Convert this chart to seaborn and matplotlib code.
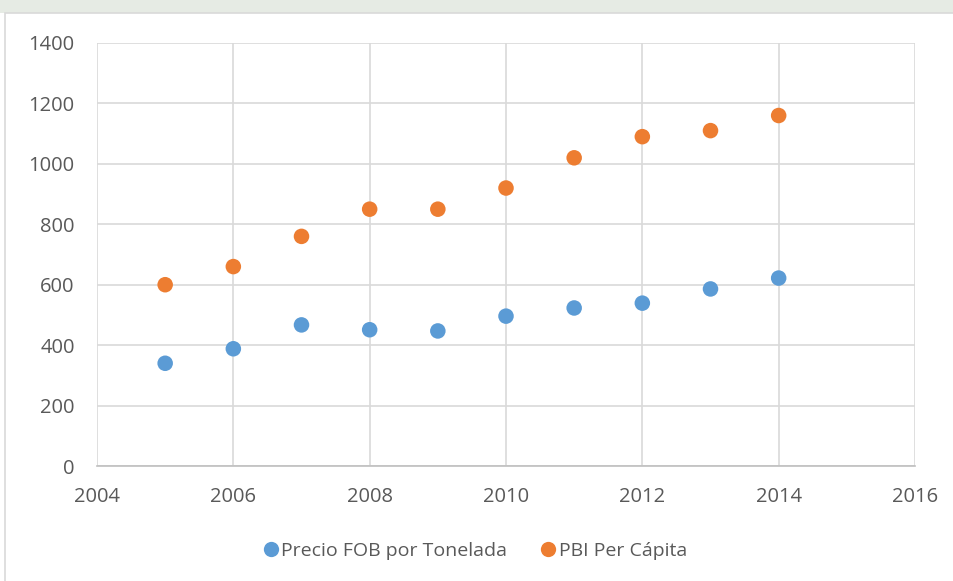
import matplotlib
matplotlib.use("Agg")
import matplotlib.pyplot as plt
import seaborn as sns
import pandas as pd
from matplotlib.patches import Rectangle

years = [2005, 2006, 2007, 2008, 2009, 2010, 2011, 2012, 2013, 2014]
precio_fob = [340, 388, 467, 451, 447, 496, 523, 539, 586, 622]
pbi_per_capita = [600, 660, 760, 850, 850, 920, 1020, 1090, 1110, 1160]
series_names = ["Precio FOB por Tonelada", "PBI Per Cápita"]
colors = ["#5B9BD5", "#ED7D31"]
y_ticks = [0, 200, 400, 600, 800, 1000, 1200, 1400]
x_ticks = [2004, 2006, 2008, 2010, 2012, 2014, 2016]

df = pd.DataFrame({
    "Año": years * 2,
    "Valor": precio_fob + pbi_per_capita,
    "Serie": [series_names[0]] * len(years) + [series_names[1]] * len(years),
})

sns.set_theme(style="white")
plt.rcParams["font.family"] = ["Open Sans", "DejaVu Sans"]
text_color = "#595959"
grid_color = "#D9D9D9"

fig = plt.figure(figsize=(9.54, 5.81), dpi=100)
fig.patch.set_facecolor("white")

# faint band at top of the page and chart frame
fig.patches.append(Rectangle((0, 1 - 13 / 581), 1, 13 / 581, transform=fig.transFigure,
                             facecolor="#E6EBE4", edgecolor="none", zorder=0))
fig.patches.append(Rectangle((5 / 954, -0.01), 1.0, 1 - 13 / 581 + 0.01, transform=fig.transFigure,
                             facecolor="white", edgecolor="#D9D9D9", linewidth=1.2, zorder=1))

ax = fig.add_axes([97 / 954, 1 - 466 / 581, (915 - 97) / 954, (466 - 43) / 581])
ax.set_zorder(2)
sns.scatterplot(data=df, x="Año", y="Valor", hue="Serie", palette=colors,
                s=125, edgecolor="none", ax=ax, legend=False, zorder=3)

ax.set_xlim(2004, 2016)
ax.set_ylim(0, 1400)
ax.set_xticks(x_ticks)
ax.set_yticks(y_ticks)
ax.set_xticklabels([str(t) for t in x_ticks])
ax.set_yticklabels([str(t) for t in y_ticks])
ax.grid(True, color=grid_color, linewidth=1.2)
ax.set_axisbelow(True)
for name, sp in ax.spines.items():
    sp.set_visible(name == "bottom")
ax.spines["bottom"].set_color("#BFBFBF")
ax.spines["bottom"].set_linewidth(1.2)
ax.tick_params(axis="both", length=0, labelsize=14.5, labelcolor=text_color)
ax.tick_params(axis="y", pad=16)
ax.tick_params(axis="x", pad=15)
ax.set_xlabel("")
ax.set_ylabel("")

handles = [plt.Line2D([], [], marker="o", linestyle="none", markersize=11,
                      markerfacecolor=c, markeredgecolor="none") for c in colors]
fig.legend(handles, series_names, loc="center", bbox_to_anchor=(474 / 954, 1 - 551 / 581),
           ncol=2, frameon=False, fontsize=14, labelcolor=text_color,
           handletextpad=0.05, columnspacing=1.6, handlelength=1.0)

fig.savefig("out.png", dpi=100, facecolor="white")
